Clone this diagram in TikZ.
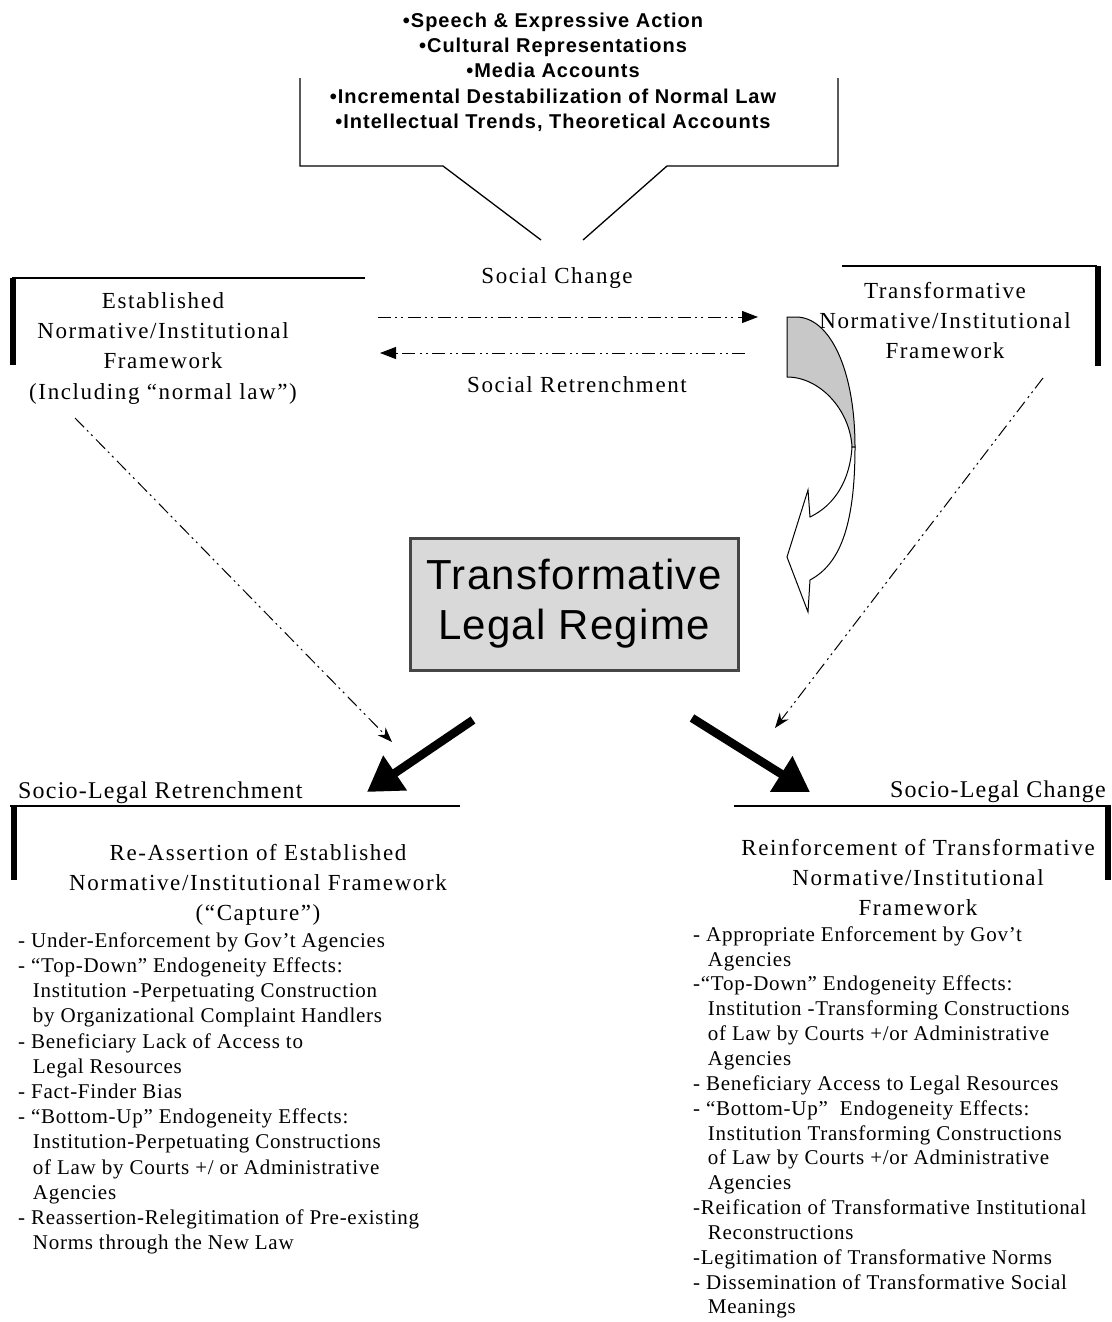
\documentclass[tikz,border=0pt]{standalone}
\usepackage{fontspec}
\setmainfont{Liberation Serif}
\setsansfont{Liberation Sans}
\usetikzlibrary{arrows.meta,positioning}
\definecolor{boxgray}{RGB}{217,217,217}
\definecolor{bendgray}{RGB}{200,200,200}
\definecolor{rimgray}{RGB}{70,70,70}
\newcommand{\lnstrut}{\rule{0pt}{0.8em}}
\newcommand{\ind}{\hspace*{0.7em}}

\begin{document}
\begin{tikzpicture}[x=1pt,y=-1pt,
  causetext/.style={inner sep=0pt,align=center,anchor=north,
    font=\sffamily\bfseries\fontsize{20}{25.3}\selectfont\addfontfeatures{LetterSpace=5}},
  frametext/.style={inner sep=0pt,align=center,anchor=north,
    font=\fontsize{23}{30.3}\selectfont\addfontfeatures{LetterSpace=7}},
  headtext/.style={inner sep=0pt,
    font=\fontsize{24}{28}\selectfont\addfontfeatures{LetterSpace=5}},
  listtext/.style={inner sep=0pt,align=left,anchor=north west,
    font=\fontsize{21}{25.2}\selectfont\addfontfeatures{LetterSpace=3.5}},
  regime/.style={draw=rimgray,line width=3pt,fill=boxgray,minimum width=328pt,
    minimum height=132pt,align=center,inner sep=0pt,
    font=\sffamily\fontsize{42}{50}\selectfont\addfontfeatures{LetterSpace=3}},
  frameline/.style={line width=1.3pt},
  framebar/.style={line width=6pt},
  dashdot/.style={line width=1pt,dash pattern=on 13pt off 4pt on 2pt off 4pt on 2pt off 5pt},
  flowarr/.style={dashdot,-{Triangle[length=16pt,width=12pt]}},
  feedarr/.style={dashdot,-{Stealth[length=15pt,width=11pt]}},
  bigarr/.style={line width=8.5pt,-{Triangle[length=34pt,width=40pt]}}
]
  \useasboundingbox (0,0) rectangle (1111,1322);

  % sources of change, with the callout below them
  \node[causetext] (causes) at (553,11) {\lnstrut•Speech \& Expressive Action\\
    •Cultural Representations\\•Media Accounts\\
    •Incremental Destabilization of Normal Law\\
    •Intellectual Trends, Theoretical Accounts};
  \draw[frameline] (300,78) -- (300,166) -- (443,166) -- (541,240);
  \draw[frameline] (583,240) -- (667,166) -- (838,166) -- (838,78);

  % the two frameworks
  \node[frametext] (estab) at (163,289.6) {\lnstrut Established\\Normative/Institutional\\
    Framework\\(Including “normal law”)};
  \draw[frameline] (365,278) -- (12,278);
  \draw[framebar] (13,278) -- (13,365);
  \node[frametext] (transf) at (945,279.6) {\lnstrut Transformative\\
    Normative/Institutional\\Framework};
  \draw[frameline] (842,266) -- (1097,266);
  \draw[framebar] (1098,266) -- (1098,366);

  \node[frametext,anchor=base] (change) at (557,283) {Social Change};
  \node[frametext,anchor=base] (retrench) at (577,392) {Social Retrenchment};
  \coordinate (estabout) at (378,317);
  \coordinate (transfin) at (758,317);
  \coordinate (transfout) at (745,353);
  \coordinate (estabin) at (380,353);
  \draw[flowarr] (estabout) -- (transfin);
  \draw[flowarr] (transfout) -- (estabin);

  % bent arrow down from the transformative framework
  \draw[line width=1pt,fill=bendgray] (787,317) -- (796,317)
    .. controls (830,317) and (855,370) .. (855,447) -- (852,447)
    .. controls (850,410) and (820,377) .. (787,377) -- cycle;
  \draw[line width=1pt,fill=white] (852,447)
    .. controls (850,480) and (835,505) .. (810,517) -- (808,490) -- (787,557)
    -- (808,612) -- (810,580) .. controls (838,565) and (855,530) .. (855,447) -- cycle;

  \node[regime] (regime) at (574,604) {Transformative\\Legal Regime};

  % outcomes
  \node[headtext,anchor=base west] (sltitle) at (18,798) {Socio-Legal Retrenchment};
  \draw[frameline] (10,806) -- (460,806);
  \draw[framebar] (14,806) -- (14,880);
  \node[headtext,anchor=base east] (sctitle) at (1106,797) {Socio-Legal Change};
  \draw[frameline] (734,806) -- (1111,806);
  \draw[framebar] (1108,806) -- (1108,880);

  \coordinate (slhit) at (392,742);
  \coordinate (schit) at (775,728);
  \draw[feedarr] (75,418) -- (slhit);
  \draw[feedarr] (1043,378) -- (schit);
  \coordinate (regimeL) at (473,720);
  \coordinate (regimeR) at (692,718);
  \coordinate (sltip) at (367,792);
  \coordinate (sctip) at (810,792);
  \draw[bigarr] (regimeL) -- (sltip);
  \draw[bigarr] (regimeR) -- (sctip);

  \node[frametext] (slhead) at (258,841.6) {\lnstrut Re-Assertion of Established\\
    Normative/Institutional Framework\\(“Capture”)};
  \node[listtext] (sllist) at (18,930.2) {\lnstrut- Under-Enforcement by Gov’t Agencies\\
    - “Top-Down” Endogeneity Effects:\\
    \ind Institution -Perpetuating Construction\\
    \ind by Organizational Complaint Handlers\\
    - Beneficiary Lack of Access to\\
    \ind Legal Resources\\
    - Fact-Finder Bias\\
    - “Bottom-Up” Endogeneity Effects:\\
    \ind Institution-Perpetuating Constructions\\
    \ind of Law by Courts +/ or Administrative\\
    \ind Agencies\\
    - Reassertion-Relegitimation of Pre-existing\\
    \ind Norms through the New Law};

  \node[frametext] (schead) at (918,836.6) {\lnstrut Reinforcement of Transformative\\
    Normative/Institutional\\Framework};
  \node[listtext,font=\fontsize{21}{24.85}\selectfont\addfontfeatures{LetterSpace=3.5}]
    (sclist) at (693,924.2) {\lnstrut- Appropriate Enforcement by Gov’t\\
    \ind Agencies\\
    -“Top-Down” Endogeneity Effects:\\
    \ind Institution -Transforming Constructions\\
    \ind of Law by Courts +/or Administrative\\
    \ind Agencies\\
    - Beneficiary Access to Legal Resources\\
    - “Bottom-Up”\ \ Endogeneity Effects:\\
    \ind Institution Transforming Constructions\\
    \ind of Law by Courts +/or Administrative\\
    \ind Agencies\\
    -Reification of Transformative Institutional\\
    \ind Reconstructions\\
    -Legitimation of Transformative Norms\\
    - Dissemination of Transformative Social\\
    \ind Meanings};
\end{tikzpicture}
\end{document}
